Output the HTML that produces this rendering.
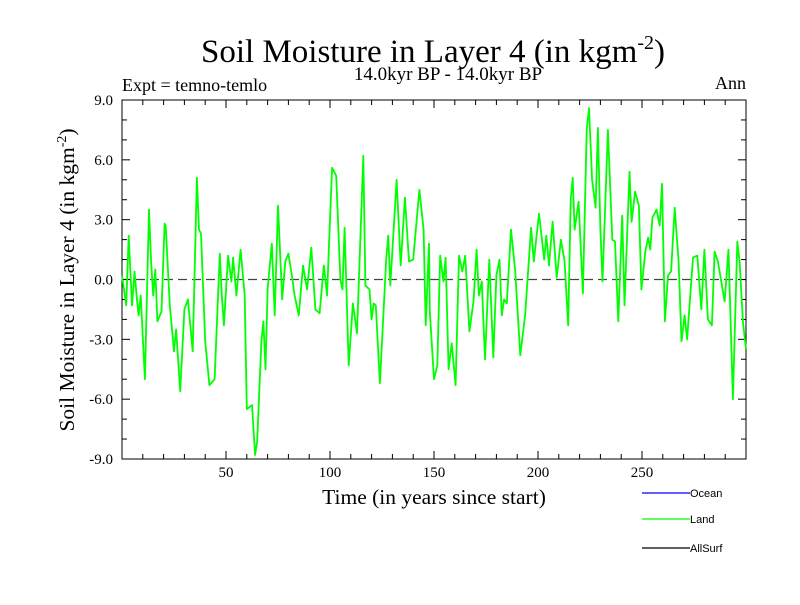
<!DOCTYPE html>
<html><head><meta charset="utf-8"><style>
body{margin:0;background:#fff;}
svg text{font-family:"Liberation Serif",serif;fill:#000;}
</style></head><body>
<svg id="chart" width="800" height="600" xmlns="http://www.w3.org/2000/svg">
<text x="433" y="62" font-size="33" text-anchor="middle">Soil Moisture in Layer 4 (in kgm<tspan font-size="20" dy="-13">-2</tspan><tspan dy="13">)</tspan></text>
<text x="448" y="80" font-size="19" text-anchor="middle">14.0kyr BP - 14.0kyr BP</text>
<text x="122" y="91" font-size="18">Expt = temno-temlo</text>
<text x="746" y="89" font-size="18" text-anchor="end">Ann</text>
<text transform="translate(74,280) rotate(-90)" font-size="21.5" text-anchor="middle">Soil Moisture in Layer 4 (in kgm<tspan font-size="14" dy="-8">-2</tspan><tspan dy="8">)</tspan></text>
<text x="434" y="504" font-size="21.5" text-anchor="middle">Time (in years since start)</text>
<g id="axes"></g>
<g id="series"></g>
<g>
<line x1="642" y1="493" x2="690" y2="493" stroke="#0000ff" stroke-width="1.2"/>
<text x="690" y="497" font-size="11" style="font-family:'Liberation Sans',sans-serif">Ocean</text>
<line x1="642" y1="519" x2="690" y2="519" stroke="#00ff00" stroke-width="1.2"/>
<text x="690" y="523" font-size="11" style="font-family:'Liberation Sans',sans-serif">Land</text>
<line x1="642" y1="548" x2="690" y2="548" stroke="#000" stroke-width="1.2"/>
<text x="690" y="552" font-size="11" style="font-family:'Liberation Sans',sans-serif">AllSurf</text>
</g>
</svg>
<script>
const years = [0,2,3.2,4.8,6,7,8,9,11,13,14,15,16,17,19,20.5,21,23,25,26,28,30,31.7,34,36,37,38,40,42,44.5,47,48,49,51,52.6,53.4,55,57,59,60,62.5,64,65,67,68,69,70,72,73.4,75,77,78.5,80,81.7,83,85,87,89,91,93,95,97,98.6,99.4,101,103,105,106,107,109,111,113,116,117,119,120,121,122,124,127,128,129,132,134,136,138,140,141,143,145,146,147.6,148,150,151.6,153,154.5,155.6,157,158.5,160.4,162,163.6,165,167,169,170.5,171.6,173,174.5,176.6,178.5,180,181.5,182.6,183.7,185,187,189,191.5,193.8,196.7,198,200.5,203,204,205.3,207,209,211,212.8,214.5,215.7,216.7,217.6,219.5,221.6,223.4,224.5,226,227.7,228.8,230,231,233.6,235.7,237,238.6,240.5,241.6,244,245,246.7,248.5,249.7,251.6,253,254,255,257,258.5,259.6,261,262.5,264,265.7,267.6,269,270.5,271.7,274.5,276.6,278.5,280,281.7,283.6,284.9,286.5,287.8,289.7,291.6,293.7,295.8,296.9,298.5,300];
const landValues = [0.2,-1.3,2.2,-1.3,0.4,-0.8,-1.8,-0.8,-5.0,3.5,0.9,-0.8,0.5,-2.1,-1.6,2.8,2.7,-1.3,-3.6,-2.5,-5.6,-1.5,-1.0,-3.6,5.1,2.5,2.3,-3.1,-5.3,-5.0,1.3,-0.8,-2.3,1.2,-0.1,1.1,-0.8,1.5,-0.8,-6.5,-6.3,-8.8,-8.1,-3.1,-2.1,-4.5,-0.5,1.8,-1.8,3.7,-1.0,0.9,1.3,0.2,-0.8,-1.8,0.7,-0.5,1.6,-1.5,-1.7,0.7,-0.8,1.5,5.6,5.2,0,-0.5,2.6,-4.3,-1.2,-2.7,6.2,-0.3,-0.5,-2.0,-1.2,-1.3,-5.2,1.0,2.2,-0.3,5.0,0.7,4.1,0.9,1.0,2.2,4.5,2.5,-2.3,1.8,-1.6,-5.0,-4.3,1.2,-0.1,1.1,-4.5,-3.2,-5.3,1.2,0.4,1.2,-2.6,-1.1,1.5,-0.8,-0.1,-4.0,1.0,-3.9,0.2,1.0,-1.8,-1.0,-1.2,2.5,0.5,-3.8,-1.8,2.6,0.9,3.3,1.0,2.2,0.7,2.9,0.1,2.0,0.9,-2.3,4.0,5.1,2.5,3.9,-0.7,7.5,8.6,5.0,3.6,7.6,2.5,-0.1,7.5,2.0,1.9,-2.1,3.2,-1.3,5.4,2.9,4.4,3.7,-0.5,1.4,2.1,1.5,3.1,3.5,2.7,4.8,-2.1,0.2,0.4,3.6,0.9,-3.1,-1.8,-3.0,1.1,1.2,-1.5,1.5,-2.0,-2.3,1.4,0.9,0.1,-1.1,1.5,-6.0,1.9,0.9,-2.1,-3.5];
const xTickLabels = ["50","100","150","200","250"];
const yTickLabels = ["-9.0","-6.0","-3.0","0.0","3.0","6.0","9.0"];

const L=122,R=746,T=100,B=459, XMIN=0,XMAX=300,YMIN=-9,YMAX=9;
const xs=v=>L+(v-XMIN)/(XMAX-XMIN)*(R-L);
const ys=v=>B-(v-YMIN)/(YMAX-YMIN)*(B-T);
const NS='http://www.w3.org/2000/svg';
const axes=document.getElementById('axes');
function mk(tag,attrs,parent){const e=document.createElementNS(NS,tag);for(const k in attrs)e.setAttribute(k,attrs[k]);parent.appendChild(e);return e;}

const frame=mk('rect',{x:L,y:T,width:R-L,height:B-T,fill:'none',stroke:'#000','stroke-width':1},axes);



const zl=mk('line',{x1:L,x2:R,y1:ys(0),y2:ys(0),stroke:'#444','stroke-width':1.2,'stroke-dasharray':'9,5'},axes);



for(let t=10;t<XMAX;t+=10){
  const major=t%50===0, len=major?8:5;
  const a=mk('line',{x1:xs(t),x2:xs(t),y1:B,y2:B-len,stroke:'#000'},axes);
  
  
  const b=mk('line',{x1:xs(t),x2:xs(t),y1:T,y2:T+len,stroke:'#000'},axes);
  
  
}
xTickLabels.forEach(s=>{
  const tx=mk('text',{x:xs(+s),y:477,'font-size':15,'text-anchor':'middle'},axes);
  
  
  tx.textContent=s;
});
for(let v=YMIN+1;v<YMAX;v+=1){
  const major=v%3===0, len=major?8:5;
  const a=mk('line',{x1:L,x2:L+len,y1:ys(v),y2:ys(v),stroke:'#000'},axes);
  
  
  const b=mk('line',{x1:R,x2:R-len,y1:ys(v),y2:ys(v),stroke:'#000'},axes);
  
  
}
yTickLabels.forEach(s=>{
  const tx=mk('text',{x:113,y:ys(parseFloat(s))+5,'font-size':15,'text-anchor':'end'},axes);
  
  
  tx.textContent=s;
});

const series=document.getElementById('series');
const pts=years.map((t,i)=>xs(t).toFixed(1)+','+ys(landValues[i]).toFixed(1)).join(' ');
const line=mk('polyline',{points:pts,fill:'none',stroke:'#00ff00','stroke-width':1.8,'stroke-linejoin':'round'},series);


</script>
</body></html>
